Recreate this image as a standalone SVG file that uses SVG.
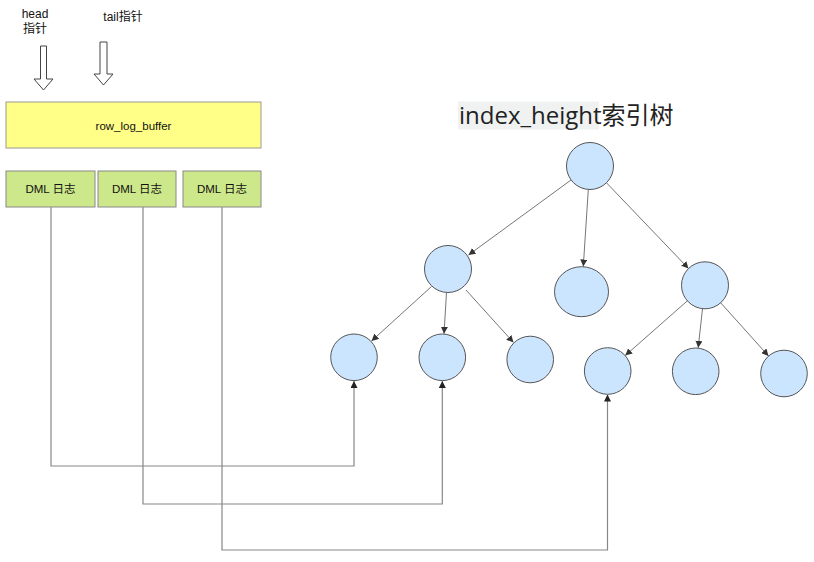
<svg xmlns="http://www.w3.org/2000/svg" width="814" height="562" viewBox="0 0 814 562">
<style>
text{font-family:"Liberation Sans","Noto Sans CJK SC",Arial,sans-serif;fill:#111}
.lbl{font-size:11.5px;text-anchor:middle}
.ptr{font-size:12px;text-anchor:middle}
.node{fill:#cce5ff;stroke:#555;stroke-width:1}
.tree{fill:none;stroke:#666;stroke-width:0.9;marker-end:url(#ah)}
.link{fill:none;stroke:#888;stroke-width:1.2;marker-end:url(#ah2)}
.hollow{fill:#fff;stroke:#444;stroke-width:1}
</style>
<defs>
<marker id="ah" viewBox="0 0 10 10" refX="10" refY="5" markerWidth="7" markerHeight="7" markerUnits="userSpaceOnUse" orient="auto"><path d="M0,0 L10,5 L0,10 z" fill="#333"/></marker>
<marker id="ah2" viewBox="0 0 10 10" refX="10" refY="5" markerWidth="7" markerHeight="7" markerUnits="userSpaceOnUse" orient="auto"><path d="M0,0 L10,5 L0,10 z" fill="#222"/></marker>
</defs>
<rect width="814" height="562" fill="#fff"/>
<g id="head-pointer">
<text class="ptr" x="35" y="18">head</text>
<text class="ptr" x="35" y="33">指针</text>
<path class="hollow" d="M40.5,46 H46.5 V79 H53 L43.5,90 L34,79 H40.5 Z"/>
</g>
<g id="tail-pointer">
<text class="ptr" x="123" y="21">tail指针</text>
<path class="hollow" d="M100,42 H107 V74 H113 L103.5,85 L94,74 H100 Z"/>
</g>
<g id="row_log_buffer">
<rect x="6" y="102" width="255" height="46" fill="#ffff88" stroke="#999"/>
<text class="lbl" x="133.5" y="129.5">row_log_buffer</text>
</g>
<g id="dml1">
<rect x="6" y="171" width="89" height="36" fill="#cde88a" stroke="#888"/>
<text class="lbl" x="50.5" y="193">DML 日志</text>
</g>
<g id="dml2">
<rect x="98" y="171" width="78" height="36" fill="#cde88a" stroke="#888"/>
<text class="lbl" x="137" y="193">DML 日志</text>
</g>
<g id="dml3">
<rect x="183" y="171" width="78" height="36" fill="#cde88a" stroke="#888"/>
<text class="lbl" x="222" y="193">DML 日志</text>
</g>
<g id="title">
<rect x="458" y="101.5" width="141" height="28" fill="#f0f2f2"/>
<text x="459" y="123.5" font-size="24" style="font-family:'Open Sans','Noto Sans CJK SC',sans-serif;fill:#222">index_height索引树</text>
</g>
<g id="root"><circle class="node" cx="590" cy="166" r="23.5"/></g>
<g id="mid-left"><circle class="node" cx="448" cy="269" r="23.5"/></g>
<g id="mid-center"><ellipse class="node" cx="581.5" cy="291.7" rx="27" ry="25"/></g>
<g id="mid-right"><circle class="node" cx="705" cy="285.3" r="23.5"/></g>
<g id="leaf1"><circle class="node" cx="354" cy="357.3" r="23.3"/></g>
<g id="leaf2"><circle class="node" cx="442.3" cy="357.3" r="23.3"/></g>
<g id="leaf3"><circle class="node" cx="530.2" cy="359.5" r="23.3"/></g>
<g id="leaf4"><circle class="node" cx="607.7" cy="371" r="23.3"/></g>
<g id="leaf5"><circle class="node" cx="695.7" cy="371.3" r="23.3"/></g>
<g id="leaf6"><circle class="node" cx="784" cy="373.5" r="23.3"/></g>
<g id="connectors">
<path class="tree" d="M571,180 L468.5,255"/>
<path class="tree" d="M588.3,189.5 L583.3,266.5"/>
<path class="tree" d="M606.7,183 L688.5,268.5"/>
<path class="tree" d="M431.5,286.5 L371.5,341"/>
<path class="tree" d="M446.5,292.5 L444,333.8"/>
<path class="tree" d="M466,290 L513.5,342.5"/>
<path class="tree" d="M687.4,300.8 L625.2,355.6"/>
<path class="tree" d="M702.5,308.7 L698.2,347.8"/>
<path class="tree" d="M720.7,302.8 L768.5,356"/>
<path class="link" d="M51,207 V466 H354 V381"/>
<path class="link" d="M143,207 V504 H442.3 V381"/>
<path class="link" d="M222,207 V550 H607.5 V394.5"/>
</g>
</svg>
